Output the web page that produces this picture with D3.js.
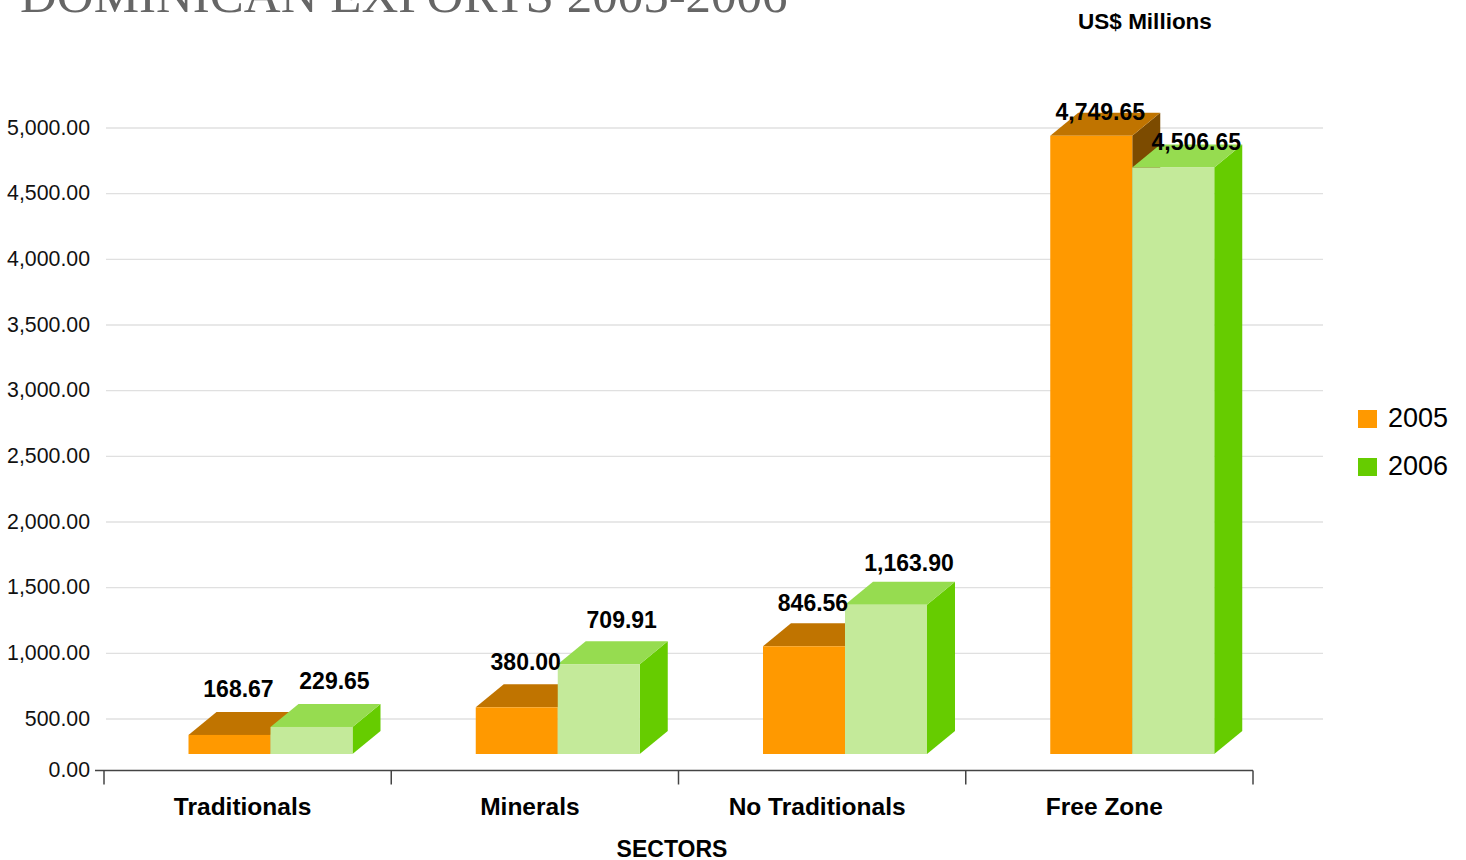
<!DOCTYPE html>
<html>
<head>
<meta charset="utf-8">
<script src="https://cdn.jsdelivr.net/npm/d3@7"></script>
<style>
    body { margin: 0; background: #fff; }
    svg { display: block; font-family: "Liberation Sans", Arial, sans-serif; }
</style>
</head>
<body>
<div id="chart"></div>
<script>
// data
const sectors = ["Traditionals", "Minerals", "No Traditionals", "Free Zone"];
const years = ["2005", "2006"];
const exports2005 = [168.67, 380.00, 846.56, 4749.65];
const exports2006 = [229.65, 709.91, 1163.90, 4506.65];
const yTicks = [0, 500, 1000, 1500, 2000, 2500, 3000, 3500, 4000, 4500, 5000];

const colors = {
    "2005": { front: "#ff9900", top: "#c07400", side: "#7c4b00", legend: "#ff9900" },
    "2006": { front: "#c4ea9a", top: "#96dc50", side: "#66cc00", legend: "#66cc00" }
};

const width = 1466, height = 860;
const depthX = 28, depthY = 23;
const barW = 82;
const baseY = 754;

const svg = d3.select("#chart").append("svg")
    .attr("width", width)
    .attr("height", height);

// scales
const x = d3.scaleBand().domain(sectors).range([104, 1253]).padding(0);
const xYear = d3.scaleBand().domain(years).range([84.5, 84.5 + 2 * barW]);
// grid / tick labels (axis line sits a bit above the grid's zero)
const y = d3.scaleLinear().domain([0, 500, 5000]).range([770.5, 719, 128]);
// bars are drawn against their own floor
const yBar = d3.scaleLinear().domain([0, 5000]).range([757, 103]);
const yLabel = d3.scaleLinear().domain([0, 5000]).range([717.8, 88.1]);

// title (cut off at the top like the original)
svg.append("text")
    .attr("x", 20)
    .attr("y", 12)
    .style("font-family", "'Liberation Serif', 'Times New Roman', serif")
    .style("font-size", "51px")
    .attr("fill", "#666")
    .text("DOMINICAN EXPORTS 2005-2006");

svg.append("text")
    .attr("x", 1145)
    .attr("y", 29)
    .attr("text-anchor", "middle")
    .style("font-size", "22.5px")
    .style("font-weight", "bold")
    .text("US$ Millions");

// gridlines
svg.append("g")
    .selectAll("line")
    .data(yTicks.filter(d => d > 0))
    .enter().append("line")
    .attr("x1", 106)
    .attr("x2", 1323)
    .attr("y1", d => y(d))
    .attr("y2", d => y(d))
    .attr("stroke", "#e0e0e0")
    .attr("stroke-width", 1.3);

// y tick labels
const fmt = d3.format(",.2f");
svg.append("g")
    .selectAll("text")
    .data(yTicks)
    .enter().append("text")
    .attr("x", 90)
    .attr("y", d => y(d))
    .attr("dy", "0.32em")
    .attr("text-anchor", "end")
    .style("font-size", "21.3px")
    .attr("fill", "#111")
    .text(d => fmt(d));

// x axis
const xAxis = d3.axisBottom(x).tickSize(14).tickSizeOuter(0).tickFormat("");
const axisG = svg.append("g")
    .attr("transform", "translate(0," + y(0) + ")")
    .call(xAxis);
axisG.select(".domain").remove();
axisG.selectAll(".tick").remove();
axisG.append("line")
    .attr("x1", 95).attr("x2", 1253)
    .attr("stroke", "#444").attr("stroke-width", 1.5);
axisG.selectAll(".boundary")
    .data(sectors.map(s => x(s)).concat([x.range()[1]]))
    .enter().append("line")
    .attr("class", "boundary")
    .attr("x1", d => d).attr("x2", d => d)
    .attr("y1", 0).attr("y2", 14)
    .attr("stroke", "#444").attr("stroke-width", 1.5);

// category labels
svg.append("g")
    .selectAll("text")
    .data(sectors)
    .enter().append("text")
    .attr("x", d => x(d) + x.bandwidth() / 2 - 5)
    .attr("y", 815)
    .attr("text-anchor", "middle")
    .style("font-size", "24.5px")
    .style("font-weight", "bold")
    .text(d => d);

svg.append("text")
    .attr("x", 672)
    .attr("y", 857)
    .attr("text-anchor", "middle")
    .style("font-size", "23px")
    .style("font-weight", "bold")
    .text("SECTORS");

// 3D bars
const bars = [];
sectors.forEach((s, i) => {
    bars.push({ sector: s, year: "2005", value: exports2005[i] });
    bars.push({ sector: s, year: "2006", value: exports2006[i] });
});

const barG = svg.append("g");
bars.forEach(d => {
    const x0 = x(d.sector) + xYear(d.year);
    const x1 = x0 + barW;
    const top = yBar(d.value);
    const c = colors[d.year];
    const g = barG.append("g");
    // side
    g.append("path")
        .attr("d", `M${x1},${baseY}L${x1 + depthX},${baseY - depthY}L${x1 + depthX},${top - depthY}L${x1},${top}Z`)
        .attr("fill", c.side);
    // top
    g.append("path")
        .attr("d", `M${x0},${top}L${x0 + depthX},${top - depthY}L${x1 + depthX},${top - depthY}L${x1},${top}Z`)
        .attr("fill", c.top);
    // front
    g.append("rect")
        .attr("x", x0)
        .attr("y", top)
        .attr("width", barW)
        .attr("height", baseY - top)
        .attr("fill", c.front);
});

// value labels
const labelShift = { "2005": 50, "2006": 64 };
svg.append("g")
    .selectAll("text")
    .data(bars)
    .enter().append("text")
    .attr("x", d => x(d.sector) + xYear(d.year) + labelShift[d.year])
    .attr("y", d => yLabel(d.value))
    .attr("text-anchor", "middle")
    .style("font-size", "23px")
    .style("font-weight", "bold")
    .text(d => fmt(d.value));

// legend
const legend = svg.append("g")
    .selectAll("g")
    .data(years)
    .enter().append("g")
    .attr("transform", (d, i) => "translate(1358," + (410 + i * 48) + ")");
legend.append("rect")
    .attr("width", 19)
    .attr("height", 18)
    .attr("fill", d => colors[d].legend);
legend.append("text")
    .attr("x", 30)
    .attr("y", 17)
    .style("font-size", "27px")
    .text(d => d);
</script>
</body>
</html>
